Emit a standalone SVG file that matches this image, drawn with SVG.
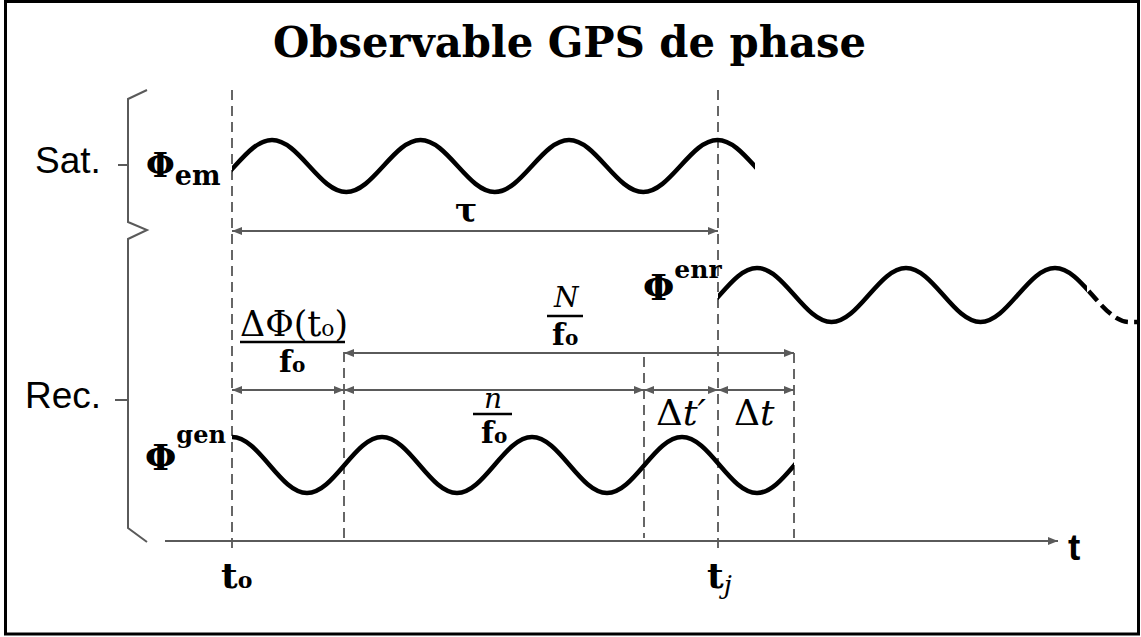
<svg xmlns="http://www.w3.org/2000/svg" width="1141" height="637" viewBox="0 0 1141 637">
<style>
.frame{fill:#fff;stroke:#000;stroke-width:3}
.guide{fill:none;stroke:#666;stroke-width:2;stroke-dasharray:10,6}
.dim{fill:none;stroke:#5a5a5a;stroke-width:2}
.wave{fill:none;stroke:#000;stroke-width:4.5;stroke-linejoin:round}
.bar{stroke:#000;stroke-width:2.5}
.sans{font-family:"Liberation Sans",Arial,sans-serif;fill:#000}
.ser{font-family:"DejaVu Serif","Liberation Serif",serif;fill:#000}
.b{font-weight:bold}
.i{font-style:italic}
</style>
<defs>
<marker id="ah" viewBox="0 0 10 8" refX="10" refY="4" markerWidth="10" markerHeight="8" markerUnits="userSpaceOnUse" orient="auto-start-reverse">
<path d="M0,0 L10,4 L0,8 Z" fill="#5a5a5a"/>
</marker>
<clipPath id="cEm"><rect x="232" y="100" width="523" height="120"/></clipPath>
<clipPath id="cEnr"><rect x="718" y="240" width="369" height="110"/></clipPath>
<clipPath id="cEnrD"><rect x="1087" y="240" width="50" height="110"/></clipPath>
<clipPath id="cGen"><rect x="232" y="410" width="562" height="110"/></clipPath>
</defs>
<rect class="frame" x="5.5" y="1.5" width="1133" height="632.5"/>
<g id="title">
<text class="ser b" x="569.5" y="57" font-size="42" text-anchor="middle" textLength="593" lengthAdjust="spacingAndGlyphs">Observable GPS de phase</text>
</g>
<g id="brace">
<path class="dim" d="M147,90 L128,99 L128,222 L147,230 L128,239 L128,528 L147,542"/>
<path class="dim" d="M118,165 L128,165 M115,400 L128,400"/>
<text class="sans" x="35" y="173" font-size="37">Sat.</text>
<text class="sans" x="25" y="408" font-size="37">Rec.</text>
</g>
<g id="guides">
<line class="guide" x1="232" y1="90" x2="232" y2="552"/>
<line class="guide" x1="718" y1="90" x2="718" y2="552"/>
<line class="guide" x1="344" y1="352" x2="344" y2="538"/>
<line class="guide" x1="644" y1="357" x2="644" y2="538"/>
<line class="guide" x1="794" y1="353" x2="794" y2="538"/>
</g>
<g id="waves">
<path class="wave" clip-path="url(#cEm)" d="M197.75,192 C224.73,192 245.02,140 272,140 C298.98,140 319.27,192 346.25,192 C373.23,192 393.52,140 420.5,140 C447.48,140 467.77,192 494.75,192 C521.73,192 542.02,140 569,140 C595.98,140 616.27,192 643.25,192 C670.23,192 690.52,140 717.5,140 C744.48,140 764.77,192 791.75,192"/>
<path class="wave" clip-path="url(#cEnr)" d="M682.5,322 C709.57,322 729.93,268 757,268 C784.07,268 804.43,322 831.5,322 C858.57,322 878.93,268 906,268 C933.07,268 953.43,322 980.5,322 C1007.57,322 1027.93,268 1055,268 C1082.07,268 1102.43,322 1129.5,322 C1140,322 1145,322 1150,322"/>
<path class="wave" clip-path="url(#cEnrD)" stroke-dasharray="13,6" stroke-dashoffset="-4" d="M1055,268 C1082.07,268 1102.43,322 1129.5,322 C1140,322 1145,322 1150,322"/>
<path class="wave" clip-path="url(#cGen)" d="M232,437 C259.26,437 279.74,493 307,493 C334.26,493 354.74,437 382,437 C409.26,437 429.74,493 457,493 C484.26,493 504.74,437 532,437 C559.26,437 579.74,493 607,493 C634.26,493 654.74,437 682,437 C709.26,437 729.74,493 757,493 C784.26,493 804.74,437 832,437"/>
</g>
<g id="connectors">
<line class="dim" x1="165" y1="541" x2="1058" y2="541" marker-end="url(#ah)"/>
<line class="dim" x1="232" y1="231" x2="718" y2="231" marker-start="url(#ah)" marker-end="url(#ah)"/>
<line class="dim" x1="344" y1="353" x2="794" y2="353" marker-start="url(#ah)" marker-end="url(#ah)"/>
<line class="dim" x1="232" y1="390" x2="344" y2="390" marker-start="url(#ah)" marker-end="url(#ah)"/>
<line class="dim" x1="344" y1="390" x2="644" y2="390" marker-start="url(#ah)" marker-end="url(#ah)"/>
<line class="dim" x1="644" y1="390" x2="718" y2="390" marker-start="url(#ah)" marker-end="url(#ah)"/>
<line class="dim" x1="718" y1="390" x2="794" y2="390" marker-start="url(#ah)" marker-end="url(#ah)"/>
</g>
<g id="phi-em">
<text class="ser b" x="146" y="177" font-size="33">Φ<tspan font-size="27" dy="8">em</tspan></text>
</g>
<g id="phi-enr">
<text class="ser b" x="643" y="300" font-size="36">Φ<tspan font-size="25" dy="-22">enr</tspan></text>
</g>
<g id="phi-gen">
<text class="ser b" x="145" y="470" font-size="36">Φ<tspan font-size="24" dy="-27">gen</tspan></text>
</g>
<g id="tau">
<text class="ser b" x="455" y="222" font-size="33">τ</text>
</g>
<g id="frac-dphi">
<text class="ser" x="240" y="336" font-size="35" textLength="108" lengthAdjust="spacingAndGlyphs">ΔΦ(t<tspan font-size="22">o</tspan>)</text>
<line class="bar" x1="240" y1="342" x2="345" y2="342"/>
<text class="ser b" x="279" y="372" font-size="30">f<tspan font-size="20">o</tspan></text>
</g>
<g id="frac-N">
<text class="ser i" x="554" y="307" font-size="28">N</text>
<line class="bar" x1="547" y1="316" x2="583" y2="316"/>
<text class="ser b" x="552" y="345" font-size="30">f<tspan font-size="20">o</tspan></text>
</g>
<g id="frac-n">
<text class="ser i" x="484" y="408" font-size="28">n</text>
<line class="bar" x1="473" y1="414" x2="512" y2="414"/>
<text class="ser b" x="481" y="443" font-size="30">f<tspan font-size="20">o</tspan></text>
</g>
<g id="dt">
<text class="ser" x="656" y="425" font-size="36" textLength="50" lengthAdjust="spacingAndGlyphs">Δ<tspan class="i">t′</tspan></text>
<text class="ser" x="734" y="425" font-size="36">Δ<tspan class="i">t</tspan></text>
</g>
<g id="axis-labels">
<text class="ser b" x="221" y="588" font-size="36">t<tspan font-size="22">o</tspan></text>
<text class="ser b" x="707" y="588" font-size="36">t<tspan class="i" font-weight="normal" font-size="26" dy="6">j</tspan></text>
<text class="sans b" x="1068" y="560" font-size="37">t</text>
</g>
</svg>
